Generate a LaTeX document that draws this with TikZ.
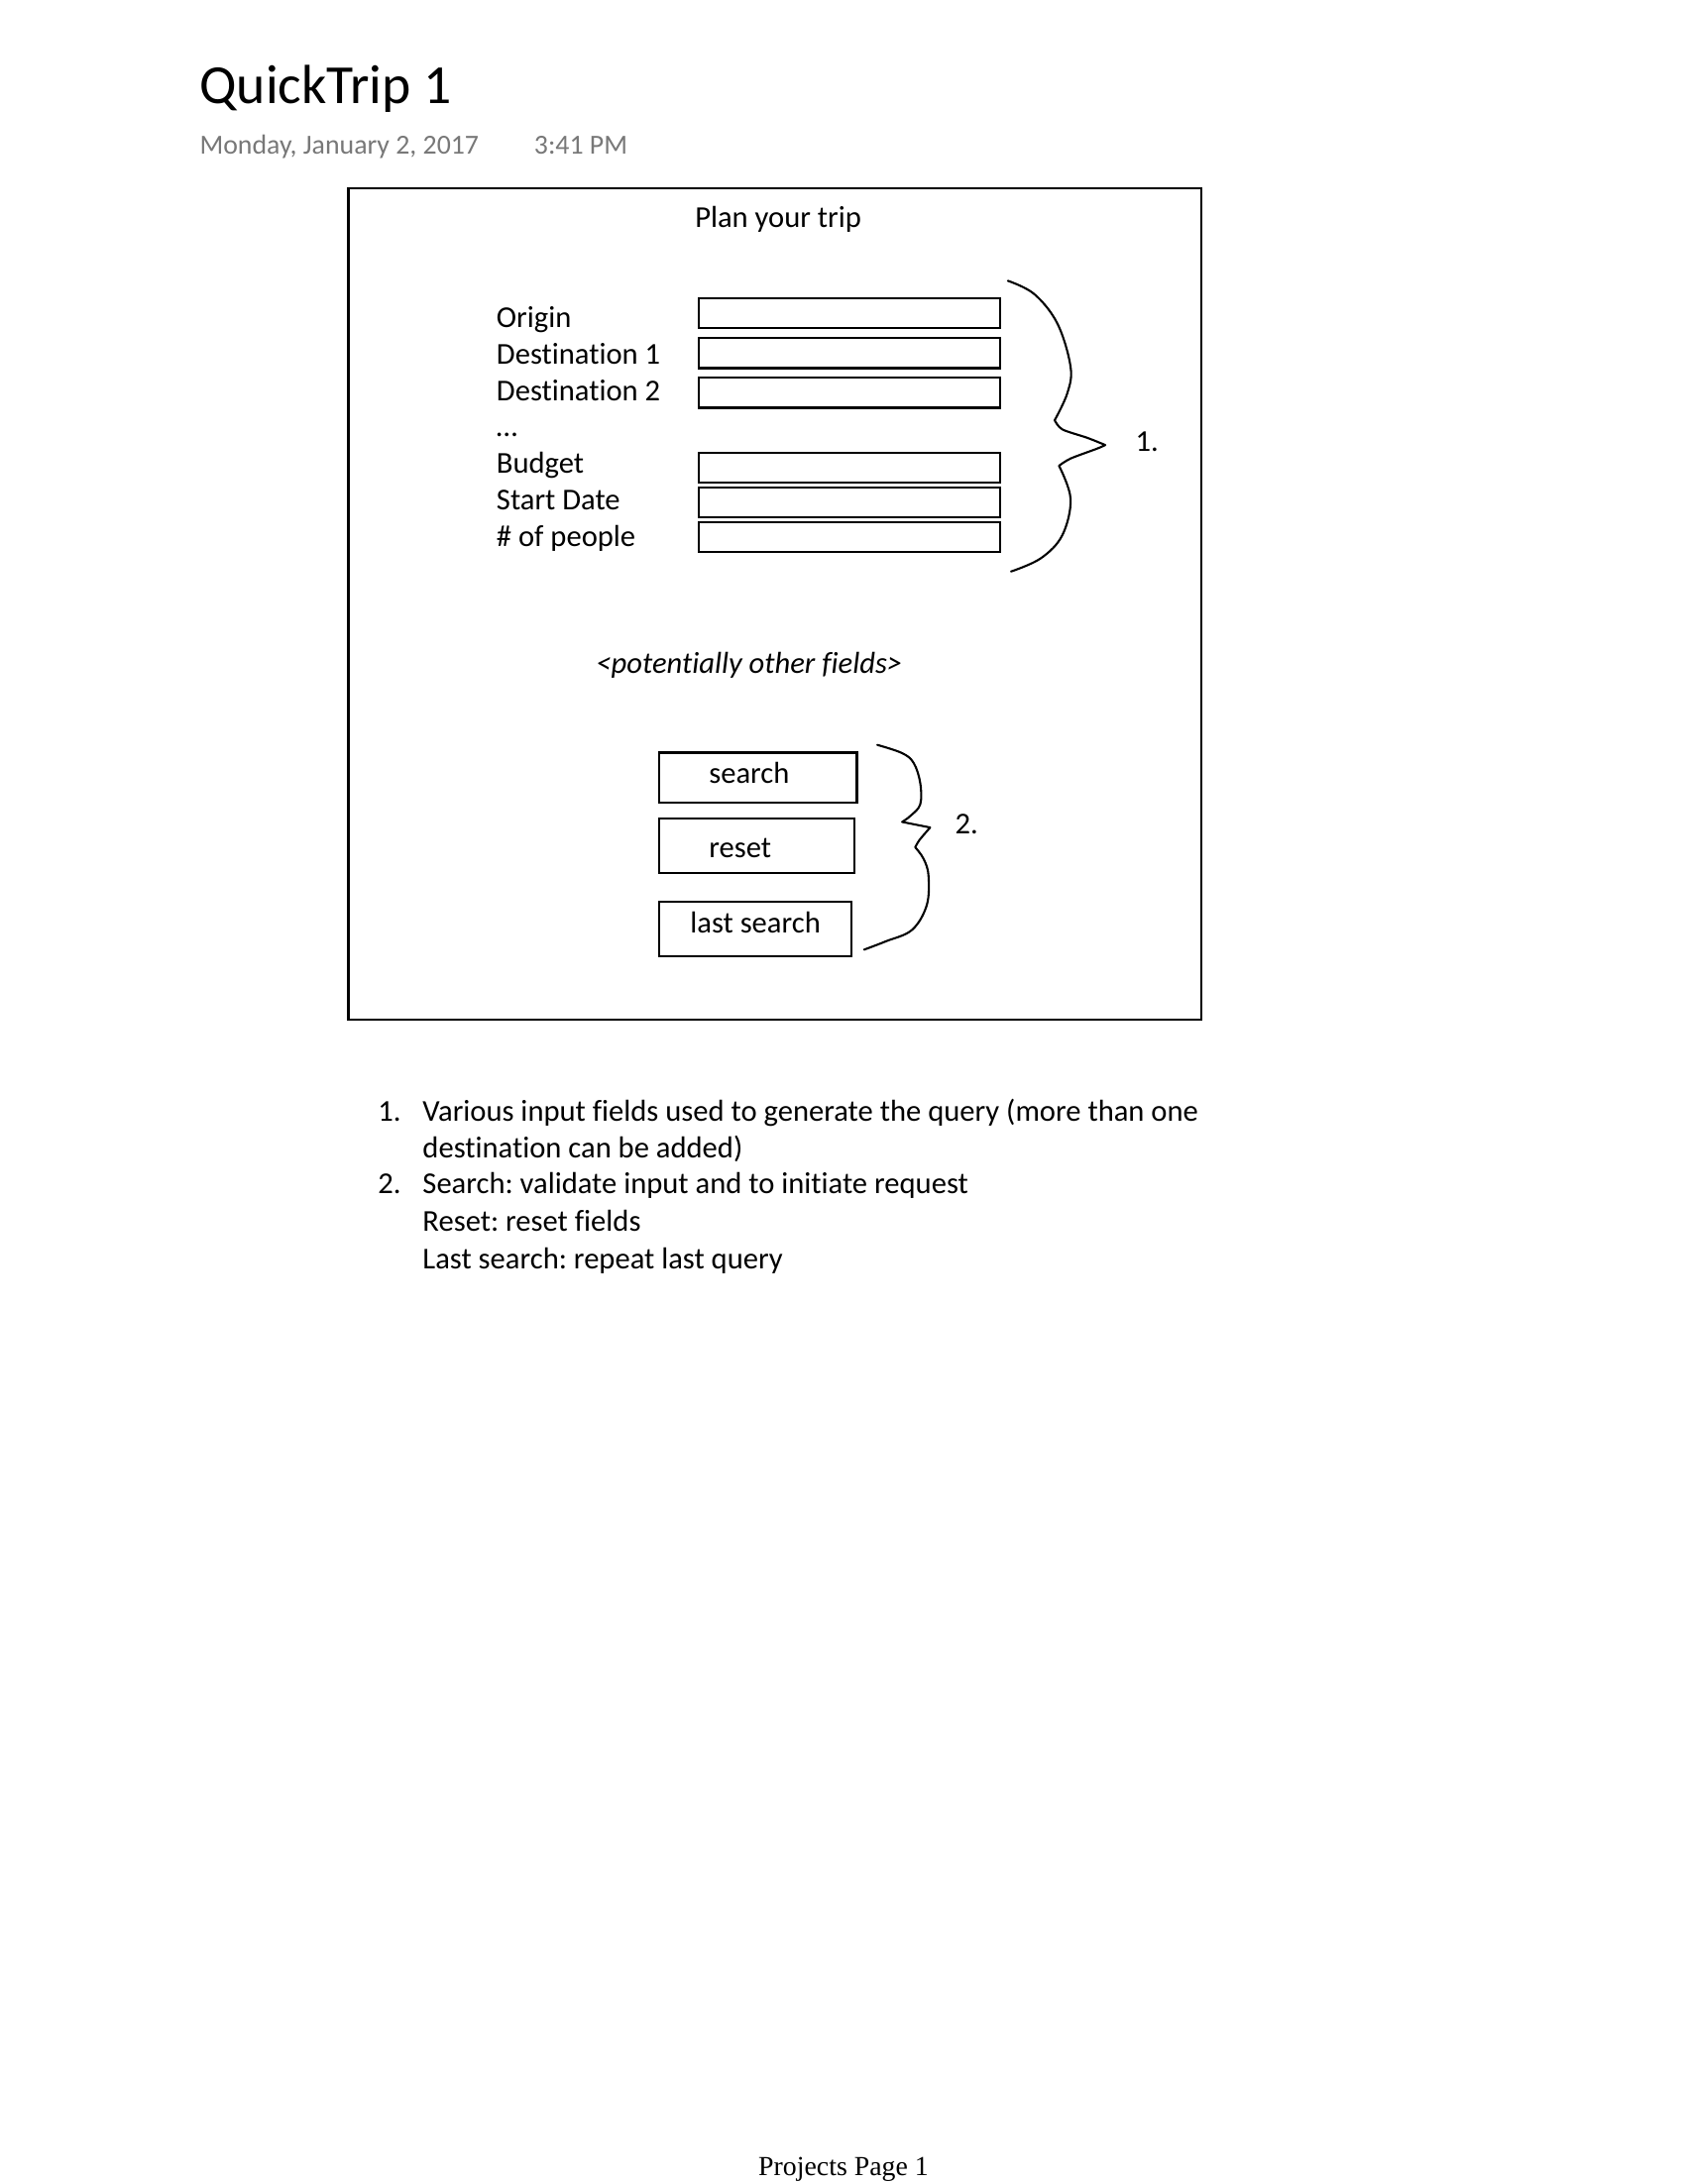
\documentclass[tikz,border=0pt]{standalone}
\usepackage{fontspec}
\setmainfont{Carlito}[Ligatures=NoCommon]
\newfontfamily\footfont{Liberation Serif}
\definecolor{dategray}{RGB}{120,120,120}
\def\uu{0.50537pt}
\frenchspacing
\begin{document}
\frenchspacing
\begin{tikzpicture}[x=0.50537pt,y=-0.50537pt,
  txt/.style={inner sep=0pt,anchor=base west,font=\fontsize{11}{13.4}\selectfont},
  title/.style={inner sep=0pt,anchor=base west,font=\fontsize{20}{24}\selectfont},
  datetxt/.style={inner sep=0pt,anchor=base west,text=dategray,font=\fontsize{10}{12}\selectfont},
  boxline/.style={line width=0.8pt},
  fieldbox/.style={draw,boxline,inner sep=0pt,minimum width={216.5*\uu},minimum height={21.5*\uu}},
  btn/.style={draw,boxline,inner sep=0pt},
  brace/.style={line width=0.75pt,line cap=round,line join=round}]
\useasboundingbox[fill=white] (0,0) rectangle (1211,1568);
% header
\node[title] (ttl) at (143,74) {QuickTrip 1};
\node[datetxt] (date) at (143,110.5) {Monday, January 2, 2017};
\node[datetxt] (time) at (383,110.5) {3:41 PM};
% frame
\node[draw,boxline,inner sep=0pt,minimum width={612.5*\uu},minimum height={597*\uu}] (frame) at (556.25,433.5) {};
\node[txt] (plan) at (498.5,163.5) {Plan your trip};
% labels
\node[txt] (lorig) at (356,235) {Origin};
\node[txt] (ld1) at (356,261.5) {Destination 1};
\node[txt] (ld2) at (356,287.5) {Destination 2};
\node[txt] (ldots) at (356,313.5) {…};
\node[txt] (lbud) at (356,339.5) {Budget};
\node[txt] (lstart) at (356,366) {Start Date};
\node[txt] (lpeople) at (356,392) {\# of people};
% fields
\node[fieldbox] (f1) at (609.75,225) {};
\node[fieldbox] (f2) at (609.75,253.5) {};
\node[fieldbox] (f3) at (609.75,282) {};
\node[fieldbox] (f4) at (609.75,335.75) {};
\node[fieldbox] (f5) at (609.75,360.5) {};
\node[fieldbox] (f6) at (609.75,385.75) {};
% brace 1
\draw[brace] plot[smooth,tension=0.6] coordinates {(723.4,201.6) (742.3,211.1) (759.0,232.4) (768.4,263.3) (766.1,282.2) (757.0,301.7)}
  -- plot[smooth,tension=0.5] coordinates {(757.0,301.7) (762.5,308.3) (780.3,314.3) (793.3,319.5)}
  -- plot[smooth,tension=0.5] coordinates {(793.3,319.5) (787.4,322.1) (768.4,329.2) (760.1,334.4)}
  -- plot[smooth,tension=0.6] coordinates {(760.1,334.4) (768.4,358.1) (762.5,384.2) (747.1,400.8) (725.7,410.3)};
\node[txt] (n1) at (814.6,324) {1.};
% other fields
\node[txt,font=\fontsize{11}{13.4}\selectfont\itshape] (other) at (427.5,483.5) {<potentially other fields>};
% buttons
\node[btn,minimum width={142*\uu},minimum height={35.6*\uu}] (bsearch) at (544,558.2) {};
\node[txt] (tsearch) at (508.5,562.5) {search};
\node[btn,minimum width={140*\uu},minimum height={39.1*\uu}] (breset) at (543,607.25) {};
\node[txt] (treset) at (508.5,616) {reset};
\node[btn,minimum width={138*\uu},minimum height={39*\uu}] (blast) at (542,667) {};
\node[txt] (tlast) at (495,669.5) {last search};
% brace 2
\draw[brace] plot[smooth,tension=0.6] coordinates {(629.7,534.8) (647.5,540.7) (655.8,547.8) (660.5,562.1) (660.5,577.5) (653.4,585.8) (647.5,590.1)}
  -- (667.6,594.1)
  -- plot[smooth,tension=0.5] coordinates {(667.6,594.1) (660,603) (656.9,608.3)}
  -- plot[smooth,tension=0.6] coordinates {(656.9,608.3) (662.9,616.6) (666.4,628.5) (665.2,649.8) (654.6,667.6) (635.6,675.9) (620.2,681.8)};
\node[txt] (n2) at (685.2,598.5) {2.};
% notes
\node[txt] (m1) at (271,805) {1.};
\node[txt] (t1a) at (303,805) {Various input fields used to generate the query (more than one};
\node[txt] (t1b) at (303,831) {destination can be added)};
\node[txt] (m2) at (271,857) {2.};
\node[txt] (t2a) at (303,857) {Search: validate input and to initiate request};
\node[txt] (t2b) at (303,884) {Reset: reset fields};
\node[txt] (t2c) at (303,911) {Last search: repeat last query};
% footer
\node[inner sep=0pt,anchor=base west,font=\footfont\fontsize{10}{12}\selectfont] (foot) at (544,1561.7) {Projects Page 1};
\end{tikzpicture}
\end{document}
